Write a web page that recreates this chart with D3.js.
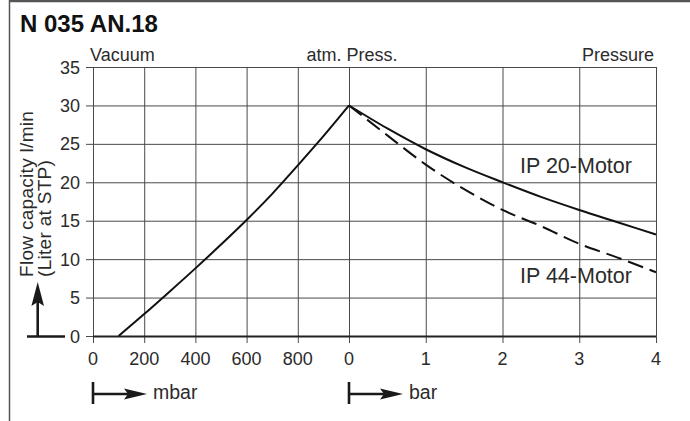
<!DOCTYPE html>
<html>
<head>
<meta charset="utf-8">
<script src="https://cdn.jsdelivr.net/npm/d3@7"></script>
<style>
  body { margin: 0; background: #fff; }
  svg text { font-family: "Liberation Sans", Arial, sans-serif; fill: #2b2b2b; }
</style>
</head>
<body>
<div id="chart"></div>
<script>
// tick values
const mbarTicks = [0, 200, 400, 600, 800];
const barTicks = [0, 1, 2, 3, 4];
const flowTicks = [0, 5, 10, 15, 20, 25, 30, 35];

// vacuum side (mbar absolute)
const vacuumMbar = [100, 200, 300, 400, 500, 600, 700, 800, 900, 1000];
const vacuumFlow = [0, 2.85, 5.8, 8.8, 11.9, 15.1, 18.5, 22.2, 26.0, 30];

// pressure side (bar overpressure)
const pressureBar = [0, 0.5, 1, 1.5, 2, 2.5, 3, 3.5, 4];
const ip20Flow = [30, 27.0, 24.3, 22.0, 20.0, 18.1, 16.4, 14.8, 13.2];
const ip44Flow = [30, 26.1, 22.3, 19.1, 16.4, 14.3, 12.0, 10.2, 8.3];

const w = 690;
const h = 421;

const svg = d3.select("#chart")
              .append("svg")
              .attr("width", w)
              .attr("height", h);

// scales: two x scales share the atm. point
const xMbar = d3.scaleLinear().domain([0, 1000]).range([93, 349]);
const xBar = d3.scaleLinear().domain([0, 4]).range([349, 656]);
const y = d3.scaleLinear().domain([0, 35]).range([336, 67]);

// frame
svg.append("line").attr("x1", 9.5).attr("x2", 9.5).attr("y1", 0).attr("y2", h)
   .attr("stroke", "#555").attr("stroke-width", 1.5);
svg.append("line").attr("x1", 9).attr("x2", w).attr("y1", 1).attr("y2", 1)
   .attr("stroke", "#555").attr("stroke-width", 2.5);

svg.append("text").attr("x", 20).attr("y", 32)
   .attr("font-size", 24).attr("font-weight", "bold").style("fill", "#111")
   .text("N 035 AN.18");

// grid
const grid = svg.append("g").attr("stroke", "#4a4a4a").attr("stroke-width", 1);
grid.selectAll(".h").data(flowTicks).enter().append("line")
    .attr("x1", xMbar(0)).attr("x2", xBar(4))
    .attr("y1", d => y(d) + 0.5).attr("y2", d => y(d) + 0.5);
grid.selectAll(".vm").data(mbarTicks).enter().append("line")
    .attr("x1", d => xMbar(d) + 0.5).attr("x2", d => xMbar(d) + 0.5)
    .attr("y1", y(35)).attr("y2", y(0) + 7);
grid.selectAll(".vb").data(barTicks).enter().append("line")
    .attr("x1", d => xBar(d) + 0.5).attr("x2", d => xBar(d) + 0.5)
    .attr("y1", y(35)).attr("y2", y(0) + 7);
grid.selectAll(".yt").data(flowTicks).enter().append("line")
    .attr("x1", xMbar(0) - 7).attr("x2", xMbar(0))
    .attr("y1", d => y(d) + 0.5).attr("y2", d => y(d) + 0.5);
// darker zero line
svg.append("line").attr("x1", xMbar(0)).attr("x2", xBar(4))
   .attr("y1", y(0) + 0.5).attr("y2", y(0) + 0.5)
   .attr("stroke", "#222").attr("stroke-width", 1.8);

// tick labels
svg.selectAll(".yl").data(flowTicks).enter().append("text")
   .attr("x", 80).attr("y", d => y(d) + 6.5)
   .attr("text-anchor", "end").attr("font-size", 18)
   .text(d => d);
svg.selectAll(".xml").data(mbarTicks).enter().append("text")
   .attr("x", d => xMbar(d)).attr("y", 365)
   .attr("text-anchor", "middle").attr("font-size", 18)
   .text(d => d);
svg.selectAll(".xbl").data(barTicks).enter().append("text")
   .attr("x", d => xBar(d)).attr("y", 365)
   .attr("text-anchor", "middle").attr("font-size", 18)
   .text(d => d);

// top labels
svg.append("text").attr("x", 90).attr("y", 61).attr("font-size", 18).text("Vacuum");
svg.append("text").attr("x", 352).attr("y", 61).attr("font-size", 18)
   .attr("text-anchor", "middle").text("atm. Press.");
svg.append("text").attr("x", 654).attr("y", 61).attr("font-size", 18)
   .attr("text-anchor", "end").text("Pressure");

// y axis label
svg.append("text").attr("transform", "translate(32.5,277) rotate(-90)")
   .attr("font-size", 19).attr("letter-spacing", 0.3).text("Flow capacity l/min");
svg.append("text").attr("transform", "translate(50.5,277) rotate(-90)")
   .attr("font-size", 19).attr("letter-spacing", 0.3).text("(Liter at STP)");

// curves
const vacLine = d3.line()
                  .x(d => xMbar(d[0]))
                  .y(d => y(d[1]))
                  .curve(d3.curveMonotoneX);
const presLine = d3.line()
                   .x(d => xBar(d[0]))
                   .y(d => y(d[1]))
                   .curve(d3.curveMonotoneX);

svg.append("path")
   .attr("d", vacLine(d3.zip(vacuumMbar, vacuumFlow)))
   .attr("fill", "none").attr("stroke", "#111").attr("stroke-width", 2);
svg.append("path")
   .attr("d", presLine(d3.zip(pressureBar, ip20Flow)))
   .attr("fill", "none").attr("stroke", "#111").attr("stroke-width", 2);
svg.append("path")
   .attr("d", presLine(d3.zip(pressureBar, ip44Flow)))
   .attr("fill", "none").attr("stroke", "#111").attr("stroke-width", 2)
   .attr("stroke-dasharray", "16,7");

svg.append("text").attr("x", 520).attr("y", 173).attr("font-size", 21.5).text("IP 20-Motor");
svg.append("text").attr("x", 520).attr("y", 283).attr("font-size", 21.5).text("IP 44-Motor");

// arrows
const ink = "#1a1a1a";
// vertical flow arrow
svg.append("line").attr("x1", 27).attr("x2", 65).attr("y1", 336.5).attr("y2", 336.5)
   .attr("stroke", ink).attr("stroke-width", 2.6);
svg.append("line").attr("x1", 37.7).attr("x2", 37.7).attr("y1", 336.5).attr("y2", 300)
   .attr("stroke", ink).attr("stroke-width", 2.6);
svg.append("path").attr("d", "M37.7,282 L44,306 L37.7,302 L31.4,306 Z").attr("fill", ink);

// mbar and bar arrows
[[xMbar(0), "mbar"], [xBar(0), "bar"]].forEach(([x0, label]) => {
    svg.append("line").attr("x1", x0).attr("x2", x0).attr("y1", 382).attr("y2", 404)
       .attr("stroke", ink).attr("stroke-width", 2.6);
    svg.append("line").attr("x1", x0).attr("x2", x0 + 36).attr("y1", 394).attr("y2", 394)
       .attr("stroke", ink).attr("stroke-width", 2.4);
    svg.append("path")
       .attr("d", `M${x0 + 54},394 L${x0 + 31},388.5 L${x0 + 35},394 L${x0 + 31},399.5 Z`)
       .attr("fill", ink);
    svg.append("text").attr("x", x0 + 60).attr("y", 399).attr("font-size", 19.5).text(label);
});
</script>
</body>
</html>
